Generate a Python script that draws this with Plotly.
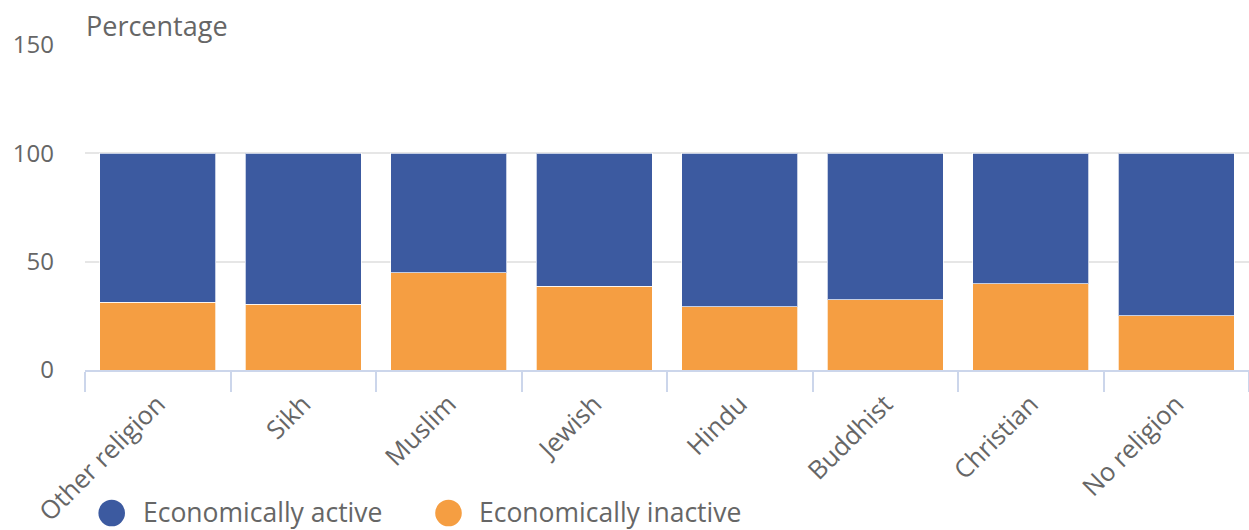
import plotly.graph_objects as go

categories = ["Other religion", "Sikh", "Muslim", "Jewish", "Hindu", "Buddhist", "Christian", "No religion"]
inactive = [31.3, 30.4, 44.9, 38.7, 29.2, 32.5, 39.7, 25.1]
active = [round(100 - v, 1) for v in inactive]
series_names = ["Economically active", "Economically inactive"]

BLUE = "#3c5aa0"
ORANGE = "#f59e42"
GREY = "#666666"
FONT = "Open Sans"

W, H = 1249, 530
L, R, T, B = 85, 0, 45, 160
PW, PH = W - L - R, H - T - B


def px_x(px):
    return (px - L) / PW


def px_y(py):
    return (H - B - py) / PH


fig = go.Figure()
fig.add_trace(go.Bar(x=categories, y=inactive, name=series_names[1],
                     marker=dict(color=ORANGE, line=dict(color="rgba(255,255,255,0.7)", width=1)),
                     showlegend=False))
fig.add_trace(go.Bar(x=categories, y=active, name=series_names[0],
                     marker=dict(color=BLUE, line=dict(color="rgba(255,255,255,0.7)", width=1)),
                     showlegend=False))

# manual legend (large circle symbols)
shapes = []
annotations = []
legend_items = [(series_names[0], BLUE, 111.7, 141.5), (series_names[1], ORANGE, 448.5, 478.0)]
ly = 512.0
for name, col, cx, tx in legend_items:
    shapes.append(dict(type="circle", xref="paper", yref="paper", xsizemode="pixel", ysizemode="pixel",
                       xanchor=px_x(cx), yanchor=px_y(ly + 1), x0=-13.3, x1=13.3, y0=-13.3, y1=13.3,
                       fillcolor=col, line=dict(width=0)))
    annotations.append(dict(text=name, xref="paper", yref="paper", x=px_x(tx), y=px_y(ly),
                            xanchor="left", yanchor="middle", showarrow=False,
                            font=dict(size=26.5, color=GREY, family=FONT), borderpad=0))

annotations.append(dict(text="Percentage", xref="paper", yref="paper", x=0, y=px_y(26),
                        xanchor="left", yanchor="middle", showarrow=False,
                        font=dict(size=27, color=GREY, family=FONT), borderpad=0))

fig.update_layout(
    width=W, height=H,
    barmode="stack", bargap=0.2,
    plot_bgcolor="white", paper_bgcolor="white",
    margin=dict(l=L, r=R, t=T, b=B),
    font=dict(family=FONT, color=GREY, size=24),
    showlegend=False,
    shapes=shapes,
    annotations=annotations,
)
fig.update_yaxes(range=[0, 150], tickvals=[0, 50, 100, 150], gridcolor="#e6e6e6",
                 gridwidth=2, zeroline=False, ticklabelstandoff=30,
                 tickfont=dict(size=24, color=GREY))
fig.update_xaxes(tickangle=-45, tickson="boundaries", ticks="outside", ticklen=20,
                 tickcolor="#ccd6eb", tickwidth=2, showline=True, linecolor="#ccd6eb",
                 linewidth=2, tickfont=dict(size=25.5, color=GREY), range=[-0.5, 7.5],
                 ticklabelstandoff=7)

fig.write_html("out.html", config={"displayModeBar": False},
               post_script="document.body.style.margin='0';document.body.style.overflow='hidden';")
